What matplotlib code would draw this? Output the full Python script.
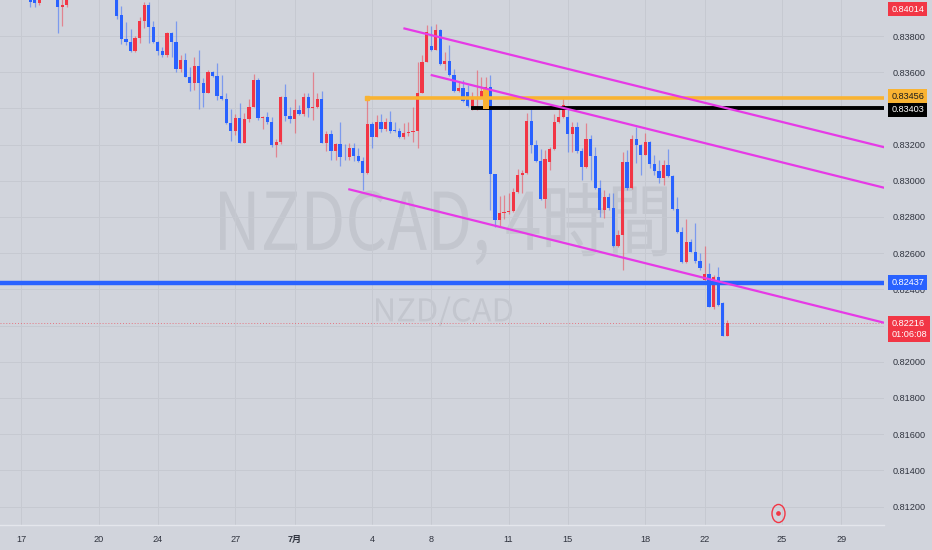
import numpy as np
import matplotlib
matplotlib.use("Agg")
import matplotlib.pyplot as plt
import matplotlib.transforms as mtransforms
from matplotlib import font_manager
from matplotlib.font_manager import FontProperties
from matplotlib.textpath import TextPath
from matplotlib.patches import PathPatch, Rectangle
from matplotlib.markers import MarkerStyle
from matplotlib.path import Path

# NZDCAD 4h candles, index 0 = first candle on screen.
# None = candle sits above the visible price range.
opens = [0.84030, 0.84020, 0.83985, None, None, None, 0.84040, 0.83960, 0.83972,
         None, None, None, None, None, None, None, None, None, None,
         0.84030, 0.83916, 0.83783, 0.83769, 0.83717, 0.83787, 0.83884, 0.83971, 0.83851, 0.83765,
         0.83719, 0.83695, 0.83815, 0.83765, 0.83618, 0.83667, 0.83575, 0.83539, 0.83634, 0.83539,
         0.83487, 0.83603, 0.83578, 0.83469, 0.83450, 0.83321, 0.83277, 0.83346, 0.83211, 0.83342,
         0.83410, 0.83557, 0.83346, 0.83355, 0.83327, 0.83198, 0.83213, 0.83465, 0.83358, 0.83340,
         0.83391, 0.83367, 0.83461, 0.83400, 0.83407, 0.83452, 0.83211, 0.83257, 0.83166, 0.83202,
         0.83133, 0.83130, 0.83183, 0.83137, 0.83110, 0.83042, 0.83313, 0.83244, 0.83323, 0.83286,
         0.83327, 0.83283, 0.83275, 0.83244, 0.83262, 0.83268, 0.83277, 0.83487, 0.83658, 0.83746,
         0.83723, 0.83833, 0.83644, 0.83664, 0.83585, 0.83496, 0.83514, 0.83491, 0.83413, 0.83452,
         0.83465, 0.83496, 0.83520, 0.83036, 0.82783, 0.82822, 0.82830, 0.82834, 0.82940, 0.83032,
         0.83042, 0.83330, 0.83198, 0.83110, 0.82900, 0.83106, 0.83174, 0.83323, 0.83354, 0.83354,
         0.83259, 0.83299, 0.83165, 0.83075, 0.83230, 0.83139, 0.82959, 0.82839, 0.82912, 0.82848,
         0.82641, 0.82700, 0.83106, 0.82959, 0.83230, 0.83198, 0.83143, 0.83216, 0.83093, 0.83056,
         0.83014, 0.83087, 0.83027, 0.82844, 0.82715, 0.82550, 0.82664, 0.82608, 0.82559, 0.82452,
         0.82483, 0.82304, 0.82470, 0.82327, 0.82143]
highs = [0.84050, 0.84040, 0.84050, None, None, None, 0.84060, 0.84010, 0.84060,
         None, None, None, None, None, None, None, None, None, None,
         0.84050, 0.83966, 0.83876, 0.83839, 0.83800, 0.83907, 0.83989, 0.83989, 0.83884, 0.83770,
         0.83741, 0.83820, 0.83820, 0.83884, 0.83695, 0.83704, 0.83631, 0.83682, 0.83723, 0.83566,
         0.83612, 0.83608, 0.83649, 0.83585, 0.83484, 0.83395, 0.83369, 0.83428, 0.83373, 0.83450,
         0.83590, 0.83566, 0.83360, 0.83382, 0.83355, 0.83230, 0.83470, 0.83535, 0.83410, 0.83450,
         0.83419, 0.83487, 0.83484, 0.83603, 0.83484, 0.83498, 0.83275, 0.83281, 0.83211, 0.83327,
         0.83203, 0.83207, 0.83207, 0.83180, 0.83133, 0.83456, 0.83327, 0.83364, 0.83367, 0.83345,
         0.83386, 0.83323, 0.83291, 0.83318, 0.83327, 0.83410, 0.83658, 0.83695, 0.83861, 0.83857,
         0.83865, 0.83840, 0.83710, 0.83750, 0.83618, 0.83550, 0.83557, 0.83530, 0.83492, 0.83612,
         0.83575, 0.83575, 0.83585, 0.83040, 0.82916, 0.82922, 0.82931, 0.82959, 0.83064, 0.83060,
         0.83376, 0.83400, 0.83226, 0.83174, 0.83170, 0.83189, 0.83368, 0.83413, 0.83465, 0.83400,
         0.83327, 0.83327, 0.83180, 0.83321, 0.83253, 0.83189, 0.83005, 0.82949, 0.82933, 0.82933,
         0.82728, 0.83161, 0.83170, 0.83253, 0.83299, 0.83205, 0.83262, 0.83222, 0.83143, 0.83115,
         0.83115, 0.83174, 0.83032, 0.82912, 0.82745, 0.82787, 0.82677, 0.82765, 0.82603, 0.82640,
         0.82548, 0.82479, 0.82526, 0.82332, 0.82231]
lows = [0.83963, 0.83963, 0.83970, None, None, None, 0.83815, 0.83855, 0.83960,
        None, None, None, None, None, None, None, None, None, None,
        0.83892, 0.83754, 0.83750, 0.83713, 0.83712, 0.83760, 0.83843, 0.83760, 0.83760, 0.83695,
        0.83682, 0.83682, 0.83686, 0.83600, 0.83600, 0.83574, 0.83498, 0.83502, 0.83395, 0.83410,
        0.83485, 0.83574, 0.83447, 0.83447, 0.83314, 0.83222, 0.83253, 0.83208, 0.83208, 0.83327,
        0.83405, 0.83336, 0.83285, 0.83316, 0.83189, 0.83130, 0.83205, 0.83332, 0.83321, 0.83262,
        0.83362, 0.83358, 0.83354, 0.83336, 0.83400, 0.83208, 0.83166, 0.83115, 0.83115, 0.83082,
        0.83115, 0.83115, 0.83111, 0.83106, 0.82947, 0.83037, 0.83183, 0.83240, 0.83271, 0.83275,
        0.83264, 0.83270, 0.83238, 0.83231, 0.83249, 0.83216, 0.83180, 0.83483, 0.83655, 0.83717,
        0.83720, 0.83640, 0.83612, 0.83580, 0.83489, 0.83493, 0.83437, 0.83410, 0.83391, 0.83391,
        0.83460, 0.83487, 0.82839, 0.82746, 0.82746, 0.82787, 0.82815, 0.82830, 0.82935, 0.82931,
        0.83035, 0.83152, 0.83104, 0.82894, 0.82849, 0.83060, 0.83170, 0.83320, 0.83345, 0.83161,
        0.83161, 0.83154, 0.83005, 0.83071, 0.83005, 0.82955, 0.82802, 0.82793, 0.82839, 0.82636,
        0.82636, 0.82507, 0.82949, 0.82955, 0.83097, 0.83032, 0.83140, 0.83070, 0.83032, 0.82988,
        0.82977, 0.83022, 0.82839, 0.82711, 0.82547, 0.82547, 0.82605, 0.82548, 0.82507, 0.82448,
        0.82302, 0.82289, 0.82310, 0.82140, 0.82140]
closes = [0.83990, 0.83985, 0.84030, None, None, None, 0.83960, 0.83972, 0.84040,
          None, None, None, None, None, None, None, None, None, None,
          0.83911, 0.83783, 0.83769, 0.83717, 0.83787, 0.83884, 0.83971, 0.83851, 0.83765, 0.83719,
          0.83695, 0.83815, 0.83765, 0.83618, 0.83667, 0.83575, 0.83539, 0.83634, 0.83539, 0.83487,
          0.83603, 0.83578, 0.83469, 0.83450, 0.83321, 0.83277, 0.83346, 0.83211, 0.83342, 0.83410,
          0.83557, 0.83346, 0.83355, 0.83327, 0.83198, 0.83213, 0.83465, 0.83358, 0.83340, 0.83391,
          0.83367, 0.83461, 0.83400, 0.83407, 0.83452, 0.83211, 0.83257, 0.83166, 0.83202, 0.83133,
          0.83130, 0.83183, 0.83137, 0.83110, 0.83042, 0.83313, 0.83244, 0.83323, 0.83286, 0.83327,
          0.83275, 0.83275, 0.83244, 0.83262, 0.83271, 0.83277, 0.83487, 0.83658, 0.83824, 0.83723,
          0.83833, 0.83644, 0.83664, 0.83585, 0.83496, 0.83514, 0.83441, 0.83413, 0.83452, 0.83465,
          0.83496, 0.83520, 0.83036, 0.82783, 0.82822, 0.82830, 0.82834, 0.82940, 0.83032, 0.83042,
          0.83330, 0.83198, 0.83110, 0.82900, 0.83119, 0.83174, 0.83323, 0.83354, 0.83419, 0.83259,
          0.83299, 0.83165, 0.83075, 0.83230, 0.83139, 0.82959, 0.82839, 0.82912, 0.82848, 0.82641,
          0.82700, 0.83106, 0.82959, 0.83230, 0.83198, 0.83143, 0.83216, 0.83093, 0.83056, 0.83014,
          0.83087, 0.83027, 0.82844, 0.82715, 0.82550, 0.82664, 0.82608, 0.82559, 0.82517, 0.82483,
          0.82304, 0.82470, 0.82314, 0.82143, 0.82216]

# date axis (candle index of each label)
date_pos = [-2, 15, 28, 45, 58, 75, 88, 105, 118, 135, 148, 165, 178]
date_labels = ["17", "20", "24", "27", "7月", "4", "8", "11", "15", "18", "22", "25", "29"]
price_ticks = [0.812, 0.814, 0.816, 0.818, 0.820, 0.822, 0.824, 0.826, 0.828,
               0.830, 0.832, 0.834, 0.836, 0.838]

# drawings
orange_level, orange_start = 0.83456, 74
black_level, black_start = 0.83403, 96.7
blue_level = 0.82437
orange_box = (99.3, 100.75, 0.83398, 0.83509)
trend_lines = [
    [(81.9, 0.83843), (188.0, 0.83182)],
    [(87.9, 0.83585), (188.0, 0.82958)],
    [(69.8, 0.82954), (188.0, 0.82212)],
]
last_price = 0.82216
countdown = "01:06:08"
top_label = "0.84014"
event_x = 164.1

BG = "#d1d4dc"
GRID = "#c6c9d1"
RED = "#f23645"
BLUE = "#2962ff"
ORANGE = "#f9b332"
MAGENTA = "#e63ae6"
TXT = "#30343f"

names = {f.name for f in font_manager.fontManager.ttflist}
NARROW = "Liberation Sans Narrow" if "Liberation Sans Narrow" in names else "Liberation Sans"
FS = 7.7 if NARROW == "Liberation Sans Narrow" else 6.6
plt.rcParams["font.family"] = [NARROW, "Noto Sans CJK JP", "DejaVu Sans"]

W, H = 932, 550
fig = plt.figure(figsize=(W / 100, H / 100), dpi=100, facecolor=BG)
ax = fig.add_axes([0, 25 / H, 884 / W, 525 / H])
ax.set_facecolor(BG)
ax.set_xlim(-6.65, 187.4)
ax.set_ylim(0.81098, 0.83999)

# grid and scales
ax.set_xticks(date_pos)
ax.set_xticklabels(date_labels)
ax.set_yticks(price_ticks)
# the 0.82200 label is hidden behind the last-price box on the reference
ax.set_yticklabels(["" if abs(p - last_price) < 0.0002 else f"{p:.5f}" for p in price_ticks])
ax.yaxis.tick_right()
ax.grid(True, color=GRID, lw=0.7, zorder=0)
ax.set_axisbelow(True)
ax.tick_params(axis="both", length=0, labelsize=FS, labelcolor=TXT)
ax.tick_params(axis="y", pad=6)
ax.tick_params(axis="x", pad=7)
for lab in ax.get_xticklabels():
    if lab.get_text() == "7月":
        lab.set_fontweight("bold")
for side in ["top", "right", "left"]:
    ax.spines[side].set_visible(False)
ax.spines["bottom"].set_color("#e4e6ec")
ax.spines["bottom"].set_linewidth(1.0)


# watermark, squeezed into the box it fills on the reference (pixel coords, y from top)
def watermark(s, x0, x1, ytop, ybot, color):
    tp = TextPath((0, 0), s, size=100, prop=FontProperties(family="Noto Sans CJK JP"))
    bb = tp.get_extents()
    tr = (mtransforms.Affine2D()
          .translate(-bb.x0, -bb.y0)
          .scale((x1 - x0) / bb.width, (ybot - ytop) / bb.height)
          .translate(x0, H - ybot))
    ax.add_artist(PathPatch(tp, transform=tr, fc=color, ec="none", zorder=0.5))


watermark("NZDCAD, 4時間", 220, 667, 183, 265, "#c3c6ce")
watermark("NZD/CAD", 376, 512, 296.5, 327, "#c3c6ce")

# candles
o = np.array([np.nan if v is None else v for v in opens])
h = np.array([np.nan if v is None else v for v in highs])
l = np.array([np.nan if v is None else v for v in lows])
c = np.array([np.nan if v is None else v for v in closes])
idx = np.arange(len(o))
ok = ~np.isnan(o)
cols = np.where(c >= o, RED, BLUE)
ax.vlines(idx[ok], l[ok], h[ok], colors=cols[ok], lw=0.9, alpha=0.5, zorder=2)
body = np.maximum(np.abs(c - o), 0.00004)
ax.bar(idx[ok], body[ok], bottom=np.minimum(o, c)[ok], width=0.7,
       color=cols[ok], linewidth=0, zorder=3)

# current price dotted line
ax.axhline(last_price, color=RED, lw=0.7, ls=(0, (1, 2)), alpha=0.6, zorder=1.5)

# horizontal drawings
ax.hlines(blue_level, -10, 200, color=BLUE, lw=3.2, zorder=4)
ax.hlines(orange_level, orange_start, 200, color=ORANGE, lw=2.6, zorder=4)
ax.plot([orange_start], [orange_level], "s", color=ORANGE, ms=2.5, zorder=4)
ax.hlines(black_level, black_start, 200, color="black", lw=2.8, zorder=4)
ax.add_patch(Rectangle((orange_box[0], orange_box[2]), orange_box[1] - orange_box[0],
                       orange_box[3] - orange_box[2], fc=ORANGE, ec="none", zorder=4))

# trend channel lines
for (x0, y0), (x1, y1) in trend_lines:
    ax.plot([x0, x1], [y0, y1], color=MAGENTA, lw=1.6, zorder=5, solid_capstyle="butt")


# price labels on the right scale
def price_label(y, text, fc, tc, dy=0, yc="data"):
    ax.annotate(text, xy=(1.0, y), xycoords=("axes fraction", yc),
                xytext=(5.2, dy), textcoords="offset points", ha="left", va="center",
                fontsize=FS, color=tc, linespacing=1.25, annotation_clip=False,
                bbox=dict(boxstyle="square,pad=0.32", fc=fc, ec="none"), zorder=10)


price_label(1 - 9 / 525, top_label, RED, "white", yc="axes fraction")
price_label(orange_level, f"{orange_level:.5f}", ORANGE, "#1c1c1c", dy=1.5)
price_label(black_level, f"{black_level:.5f}", "black", "white", dy=-1.5)
price_label(blue_level, f"{blue_level:.5f}", BLUE, "white")
price_label(last_price, f"{last_price:.5f}\n{countdown}", RED, "white", dy=-4.5)

# event marker near the bottom
oval = MarkerStyle(Path.unit_circle().transformed(mtransforms.Affine2D().scale(0.72, 1.0)))
bt = mtransforms.blended_transform_factory(ax.transData, ax.transAxes)
ax.plot([event_x], [12 / 525], marker=oval, ms=13, mfc="none", mec=RED, mew=1.0,
        transform=bt, clip_on=False, zorder=6)
ax.plot([event_x], [12 / 525], marker="o", ms=2.4, color=RED, transform=bt,
        clip_on=False, zorder=6)

fig.savefig("out.png", dpi=100, facecolor=BG)
